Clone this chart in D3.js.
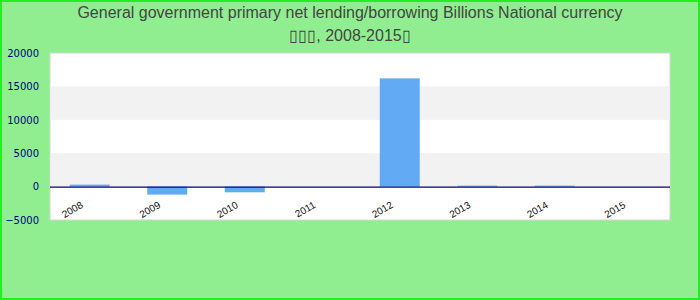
<!DOCTYPE html>
<html>
  <head>
    <meta charset="utf-8">
    <script src="https://cdn.jsdelivr.net/npm/d3@7"></script>
    <style>
      body { margin: 0; }
    </style>
  </head>
  <body>
    <svg width="700" height="300"></svg>
    <script>
      const svg = d3.select('svg');
      const width = +svg.attr('width');
      const height = +svg.attr('height');
      const margin = {top: 53, bottom: 80, left: 50, right: 30};

      // data
      const years = ['2008', '2009', '2010', '2011', '2012', '2013', '2014', '2015'];
      const values = [300, -1200, -850, 0, 16200, 150, 150, 0];
      const yTicks = [-5000, 0, 5000, 10000, 15000, 20000];
      const titleLines = ['General government primary net lending/borrowing Billions National currency',
                          '\u25AF\u25AF\u25AF, 2008-2015\u25AF'];

      // background + border
      svg.append('rect')
        .attr('x', 1).attr('y', 1)
        .attr('width', width - 2).attr('height', height - 2)
        .attr('fill', '#90ee90')
        .attr('stroke', '#22ee22')
        .attr('stroke-width', 2);

      const xScale = d3.scaleBand()
        .domain(years)
        .range([margin.left + 1, width - margin.right + 1])
        .paddingInner(0.484)
        .paddingOuter(0.242);

      const yScale = d3.scaleLinear()
        .domain([-5000, 20000])
        .range([height - margin.bottom, margin.top]);

      // plot area
      svg.append('rect')
        .attr('x', margin.left)
        .attr('y', margin.top)
        .attr('width', width - margin.left - margin.right)
        .attr('height', height - margin.top - margin.bottom)
        .attr('fill', 'white')
        .attr('stroke', '#d4d4d4')
        .attr('stroke-width', 1);

      // grey stripes between ticks
      const bands = d3.pairs(yTicks).filter((d, i) => i % 2 === 1);
      svg.append('g').selectAll('rect')
        .data(bands)
        .enter().append('rect')
        .attr('x', margin.left + 0.5)
        .attr('width', width - margin.left - margin.right - 1)
        .attr('y', d => yScale(d[1]))
        .attr('height', d => yScale(d[0]) - yScale(d[1]))
        .attr('fill', '#f2f2f2');

      // bars
      svg.append('g').selectAll('rect')
        .data(values)
        .enter().append('rect')
        .attr('x', (d, i) => xScale(years[i]))
        .attr('width', xScale.bandwidth())
        .attr('y', d => yScale(Math.max(0, d)))
        .attr('height', d => Math.abs(yScale(d) - yScale(0)))
        .attr('fill', '#63aaf5');

      // zero line
      svg.append('line')
        .attr('x1', margin.left)
        .attr('x2', width - margin.right)
        .attr('y1', yScale(0) + 0.5)
        .attr('y2', yScale(0) + 0.5)
        .attr('stroke', '#000080')
        .attr('stroke-width', 1.4);

      // y axis labels
      const yAxis = d3.axisLeft(yScale).tickValues(yTicks).tickFormat(d3.format('d'))
        .tickSize(0).tickPadding(0);
      const yAxisG = svg.append('g')
        .attr('transform', `translate(${margin.left - 11},0)`)
        .call(yAxis);
      yAxisG.select('.domain').remove();
      yAxisG.selectAll('text')
        .style('font-family', 'DejaVu Sans')
        .style('font-size', '10px')
        .attr('fill', '#000080');

      // x axis labels
      svg.append('g').selectAll('text')
        .data(years)
        .enter().append('text')
        .attr('transform', d => `translate(${xScale(d) + xScale.bandwidth() / 2 - 6},207) rotate(-30)`)
        .attr('text-anchor', 'end')
        .style('font-family', 'Liberation Sans, Arial')
        .style('font-size', '10px')
        .attr('fill', '#111')
        .text(d => d);

      // title
      svg.append('g').selectAll('text')
        .data(titleLines)
        .enter().append('text')
        .attr('x', width / 2)
        .attr('y', (d, i) => 18 + i * 23)
        .attr('text-anchor', 'middle')
        .style('font-family', 'Liberation Sans, Arial')
        .style('font-size', '16px')
        .attr('fill', '#444')
        .text(d => d);
    </script>
  </body>
</html>
